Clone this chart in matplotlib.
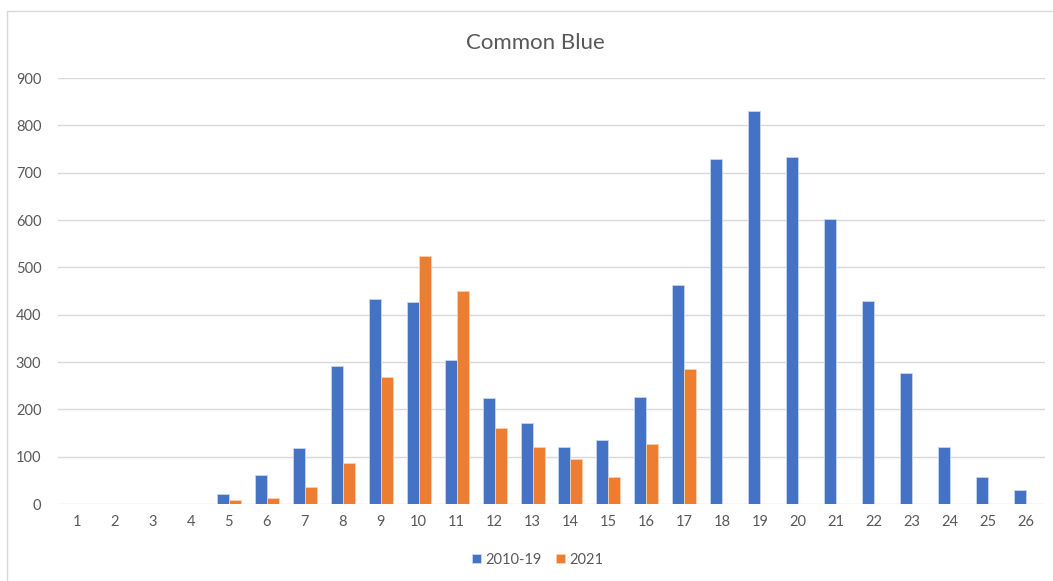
import numpy as np
import matplotlib.pyplot as plt
from matplotlib.patches import Rectangle

plt.rcParams['font.family'] = ['Lato', 'DejaVu Sans']

weeks = [str(i) for i in range(1, 27)]
avg_2010_19 = [0, 0, 0, 0, 21, 61, 118, 292, 433, 427, 305, 223, 172, 120, 135, 226, 462,
               728, 830, 733, 603, 428, 277, 121, 58, 29]
year_2021 = [0, 0, 0, 0, 9, 12, 35, 87, 268, 524, 450, 160, 120, 95, 58, 127, 285,
             0, 0, 0, 0, 0, 0, 0, 0, 0]

blue = '#4472C4'
orange = '#ED7D31'
text_col = '#595959'
grid_col = '#D9D9D9'

fig = plt.figure(figsize=(10.53, 5.81), dpi=100)
ax = fig.add_axes([58/1053, 1 - 504/581, (1045-58)/1053, (504-78)/581])

x = np.arange(len(weeks))
w = 0.316
ax.bar(x - w/2, avg_2010_19, width=w, color=blue, label='2010-19', zorder=3,
       edgecolor='#c9d6ee', linewidth=0.6)
ax.bar(x + w/2, year_2021, width=w, color=orange, label='2021', zorder=3,
       edgecolor='#f8d0b4', linewidth=0.6)

ax.set_xlim(-0.5, len(weeks) - 0.5)
ax.set_ylim(0, 900)
ax.set_yticks(range(0, 901, 100))
ax.set_xticks(x)
ax.set_xticklabels(weeks)
ax.grid(axis='y', color=grid_col, linewidth=1, zorder=0)
for s in ax.spines.values():
    s.set_visible(False)
ax.tick_params(length=0, colors=text_col, labelsize=10.5)
ax.tick_params(axis='y', pad=12)
ax.tick_params(axis='x', pad=8)

fig.text(535/1053, 1 - 43/581, 'Common Blue', ha='center', va='center', fontsize=16, color=text_col)

fig.legend(loc='center', bbox_to_anchor=(538/1053, 1 - 560/581), ncol=2, frameon=False,
           fontsize=10.5, handlelength=0.6, handleheight=0.6, columnspacing=1.0,
           handletextpad=0.3, labelcolor=text_col)

fig.patches.append(Rectangle((7/1053, -0.01), 1.0, 1 - 11/581 + 0.01,
                             transform=fig.transFigure, fill=False,
                             edgecolor=grid_col, linewidth=1))

plt.savefig('out.png', dpi=100)
